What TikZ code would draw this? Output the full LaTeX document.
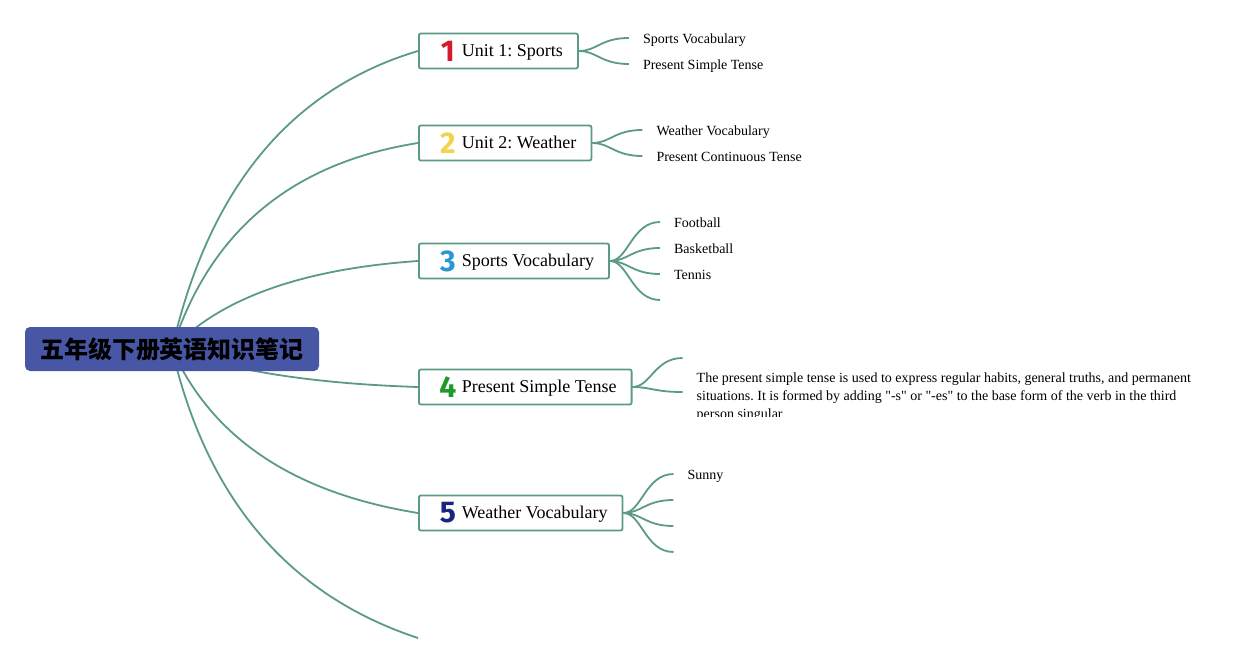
\documentclass[tikz,border=0pt]{standalone}
\usepackage{fontspec}
\setmainfont{Liberation Serif}
\newfontfamily\rawserif{Liberation Serif}[Ligatures=ResetAll]
\newfontfamily\cjkfont{Noto Sans CJK SC}
\newfontfamily\iconfont{Fira Sans}
\usetikzlibrary{calc,backgrounds}
\definecolor{linec}{HTML}{5B9A86}
\definecolor{rootc}{HTML}{4757A5}
\definecolor{numa}{HTML}{D71A2B}
\definecolor{numb}{HTML}{F1D44C}
\definecolor{numc}{HTML}{2A96D8}
\definecolor{numd}{HTML}{1E9A2B}
\definecolor{nume}{HTML}{1B2480}
\newcommand{\unitnum}[2]{\hspace*{2pt}\makebox[24pt][c]{\raisebox{-4.5pt}{\iconfont\bfseries\fontsize{30}{30}\selectfont\color{#1}#2}}\hspace*{2pt}}
\newcommand{\dq}{{\rawserif\symbol{34}}}
\frenchspacing
\begin{document}
\begin{tikzpicture}[x=1pt,y=-1pt,
  unitbox/.style={draw=linec, line width=1.8pt, rounded corners=2pt, fill=white, anchor=west,
    inner xsep=15pt, inner ysep=0pt, minimum height=35pt, font=\fontsize{18}{22}\selectfont},
  leaf/.style={anchor=base west, inner sep=0pt, font=\fontsize{14}{18}\selectfont},
  branch/.style={draw=linec, line width=1.8pt},
  rootbox/.style={fill=rootc, rounded corners=5pt, minimum width=294pt, minimum height=44pt,
    inner sep=0pt, font=\cjkfont\bfseries\fontsize{24}{24}\selectfont}]
\useasboundingbox (0,0) rectangle (1256,664);

\node[rootbox] (root) at (172,349) {五年级下册英语知识笔记};

\node[unitbox] (u1) at (418,51) {\unitnum{numa}{1}Unit 1: Sports};
\node[unitbox] (u2) at (418,143) {\unitnum{numb}{2}Unit 2: Weather};
\node[unitbox] (u3) at (418,261) {\unitnum{numc}{3}Sports Vocabulary};
\node[unitbox] (u4) at (418,387) {\unitnum{numd}{4}Present Simple Tense};
\node[unitbox] (u5) at (418,513) {\unitnum{nume}{5}Weather Vocabulary};
\coordinate (u6) at (418,638);

% quadratic control points of the main branches
\coordinate (q1) at (227,108);
\coordinate (q2) at (228,173);
\coordinate (q3) at (244,273);
\coordinate (q4) at (262,382);
\coordinate (q5) at (232,483);
\coordinate (q6) at (224,574);

% branch ends
\coordinate (e11) at ($(u1.east)+(50,-13)$);
\coordinate (e12) at ($(u1.east)+(50,13)$);
\coordinate (e21) at ($(u2.east)+(50,-13)$);
\coordinate (e22) at ($(u2.east)+(50,13)$);
\coordinate (e31) at ($(u3.east)+(50,-39)$);
\coordinate (e32) at ($(u3.east)+(50,-13)$);
\coordinate (e33) at ($(u3.east)+(50,13)$);
\coordinate (e34) at ($(u3.east)+(50,39)$);
\coordinate (e41) at ($(u4.east)+(50,-29)$);
\coordinate (e42) at ($(u4.east)+(50,5)$);
\coordinate (e51) at ($(u5.east)+(50,-39)$);
\coordinate (e52) at ($(u5.east)+(50,-13)$);
\coordinate (e53) at ($(u5.east)+(50,13)$);
\coordinate (e54) at ($(u5.east)+(50,39)$);

\node[leaf] (l11) at ($(e11)+(14,5.5)$) {Sports Vocabulary};
\node[leaf] (l12) at ($(e12)+(14,5.5)$) {Present Simple Tense};
\node[leaf] (l21) at ($(e21)+(14,5.5)$) {Weather Vocabulary};
\node[leaf] (l22) at ($(e22)+(14,5.5)$) {Present Continuous Tense};
\node[leaf] (l31) at ($(e31)+(14,5.5)$) {Football};
\node[leaf] (l32) at ($(e32)+(14,5.5)$) {Basketball};
\node[leaf] (l33) at ($(e33)+(14,5.5)$) {Tennis};
\node[leaf] (l51) at ($(e51)+(14,5.5)$) {Sunny};
\begin{scope}
  \clip (680,340) rectangle (1256,416);
  \node[leaf, anchor=west, align=left] (l42) at ($(e42)+(14,5.5)$) {The present simple tense is used to express regular habits, general truths, and permanent\\situations. It is formed by adding \dq-s\dq{} or \dq-es\dq{} to the base form of the verb in the third\\person singular};
\end{scope}

\begin{pgfonlayer}{background}
  \fill[white] (0,0) rectangle (1256,664);
  \foreach \i in {1,...,6}{
    \draw[branch] (root.center) .. controls ($(root.center)!0.6667!(q\i)$) and ($(u\i.west)!0.6667!(q\i)$) .. (u\i.west);
  }
  \foreach \u/\e in {u1/e11,u1/e12,u2/e21,u2/e22,u3/e31,u3/e32,u3/e33,u3/e34,u4/e41,u4/e42,u5/e51,u5/e52,u5/e53,u5/e54}{
    \draw[branch] (\u.east) .. controls +(18,0) and +(-28,0) .. (\e);
  }
\end{pgfonlayer}
\end{tikzpicture}
\end{document}
